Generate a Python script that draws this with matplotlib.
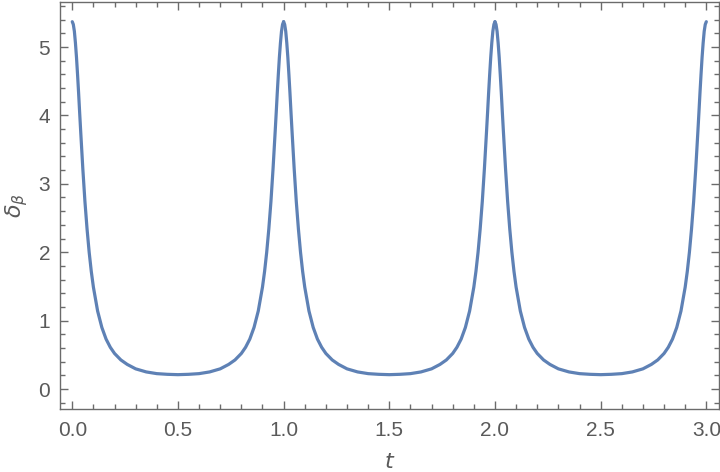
import numpy as np
import matplotlib
matplotlib.use('Agg')
import matplotlib.pyplot as plt
from matplotlib.ticker import MultipleLocator

# one period of the curve (it repeats at t = 1, 2)
t_period = [0.0, 0.005, 0.01, 0.015, 0.02, 0.025, 0.03, 0.035, 0.04, 0.045,
            0.05, 0.06, 0.07, 0.08, 0.09, 0.10, 0.12, 0.14, 0.16, 0.18,
            0.20, 0.23, 0.26, 0.30, 0.35, 0.40, 0.45, 0.50]
delta_period = [5.37, 5.33, 5.23, 5.06, 4.85, 4.60, 4.33, 4.04, 3.76, 3.49,
                3.22, 2.74, 2.34, 2.00, 1.72, 1.49, 1.14, 0.90, 0.73, 0.61,
                0.52, 0.425, 0.36, 0.295, 0.25, 0.225, 0.215, 0.21]
periods = [0, 1, 2]

x_ticks = [0.0, 0.5, 1.0, 1.5, 2.0, 2.5, 3.0]
y_ticks = [0, 1, 2, 3, 4, 5]

line_color = '#5E81B5'
axis_color = '#6b6b6b'
text_color = '#5a5a5a'

plt.rcParams['font.family'] = ['Liberation Sans', 'DejaVu Sans']

fig = plt.figure(figsize=(7.2, 4.72), dpi=100)
ax = fig.add_axes([60 / 720, 1 - 409 / 472, 659 / 720, 407 / 472])

# full period: the half read above, mirrored about t = 0.5
half_t = np.array(t_period)
half_d = np.array(delta_period)
one_t = np.concatenate([half_t, 1.0 - half_t[::-1][1:]])
one_d = np.concatenate([half_d, half_d[::-1][1:]])

for k in periods:
    ax.plot(one_t + k, one_d, color=line_color, linewidth=2.3,
            solid_capstyle='round', solid_joinstyle='round')

ax.set_xlim(-0.058, 3.06)
ax.set_ylim(-0.292, 5.658)

ax.set_xticks(x_ticks)
ax.set_xticklabels([f'{v:.1f}' for v in x_ticks])
ax.set_yticks(y_ticks)
ax.xaxis.set_minor_locator(MultipleLocator(0.1))
ax.yaxis.set_minor_locator(MultipleLocator(0.2))

ax.tick_params(which='both', direction='in', top=True, right=True,
               color=axis_color, width=1, labelcolor=text_color, labelsize=15)
ax.tick_params(which='major', length=6)
ax.tick_params(axis='x', which='major', pad=9)
ax.tick_params(axis='y', which='major', pad=7)
ax.tick_params(which='minor', length=3.5)

for s in ax.spines.values():
    s.set_color(axis_color)
    s.set_linewidth(1)

ax.set_xlabel('$t$', fontsize=16, color=text_color)
ax.set_ylabel(r'$\delta_\beta$', fontsize=16, color=text_color)
ax.xaxis.set_label_coords(0.5, -0.105)
ax.yaxis.set_label_coords(-0.046, 0.5)

fig.savefig('out.png', dpi=100)
